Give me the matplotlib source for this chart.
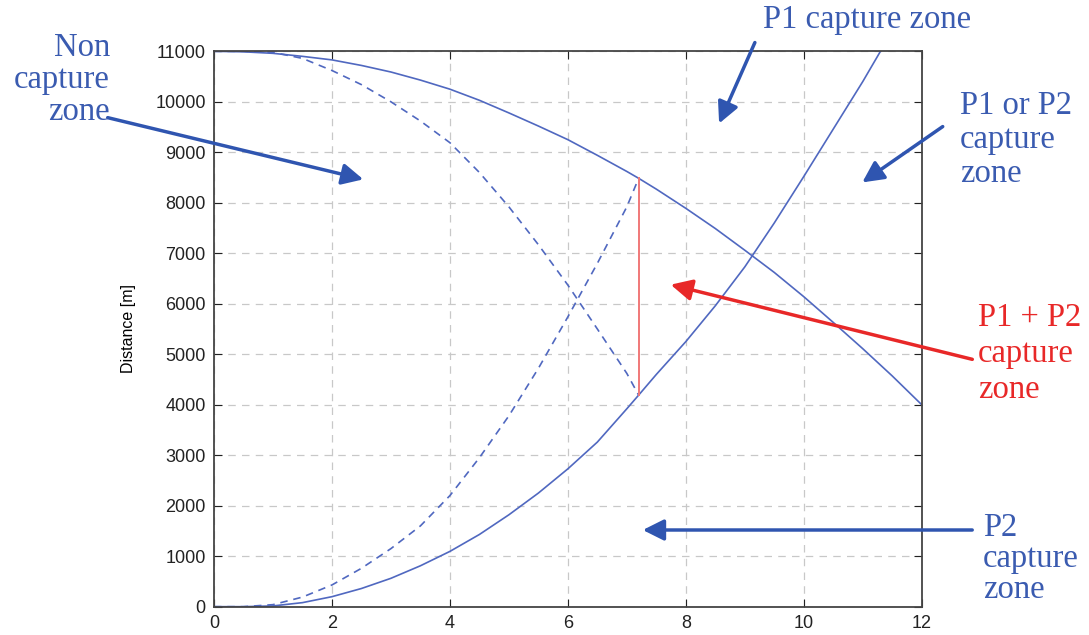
import numpy as np
import matplotlib.pyplot as plt

# curves (x, distance in m)
x_p1 = [0, 0.5, 1, 1.5, 2, 2.5, 3, 3.5, 4, 4.5, 5, 5.5, 6, 6.5, 7, 7.2, 7.5, 8, 8.5, 9, 9.5, 10, 10.5, 11, 11.5, 12]
d_p1 = [11000, 10990, 10960, 10900, 10830, 10720, 10590, 10430, 10250, 10030, 9780, 9520, 9250, 8940, 8620, 8485,
        8270, 7890, 7490, 7060, 6620, 6140, 5630, 5110, 4570, 4000]

x_p2 = [0, 0.5, 1, 1.5, 2, 2.5, 3, 3.5, 4, 4.5, 5, 5.5, 6, 6.5, 7, 7.2, 7.5, 8, 8.5, 9, 9.5, 10, 10.5, 11, 11.3]
d_p2 = [0, 0, 15, 80, 198, 360, 562, 810, 1095, 1430, 1820, 2250, 2730, 3260, 3920, 4190, 4600, 5250, 5960, 6730,
        7600, 8520, 9460, 10400, 11000]

x_dash = [0, 0.5, 1, 1.5, 2, 2.5, 3, 3.5, 4, 4.5, 5, 5.5, 6, 6.5, 7, 7.2]
d_dash_down = [11000, 11000, 10980, 10860, 10620, 10340, 10000, 9620, 9190, 8600, 7920, 7170, 6370, 5500, 4620, 4190]
d_dash_up = [0, 0, 40, 190, 430, 760, 1150, 1600, 2200, 2950, 3780, 4720, 5740, 6800, 7920, 8485]

x_red = 7.2
red_span = [4190, 8485]

blue = '#5068c0'
arrow_blue = '#2f55b0'
txt_blue = '#3a5bb0'
red = '#e82828'

plt.rcParams['font.family'] = ['Liberation Sans', 'DejaVu Sans']
fig = plt.figure(figsize=(10.89, 6.35), dpi=100)
ax = fig.add_axes([0.1965, 0.0446, 0.6499, 0.8746])

ax.plot(x_p1, d_p1, color=blue, lw=1.2)
ax.plot(x_p2, d_p2, color=blue, lw=1.2)
ax.plot(x_dash, d_dash_down, color=blue, lw=1.2, ls=(0, (4.5, 3.5)))
ax.plot(x_dash, d_dash_up, color=blue, lw=1.2, ls=(0, (4.5, 3.5)))
ax.plot([x_red, x_red], red_span, color='#f07878', lw=1.4)

ax.set_xlim(0, 12)
ax.set_ylim(0, 11000)
ax.set_xticks(np.arange(0, 13, 2))
ax.set_yticks(np.arange(0, 11001, 1000))
ax.grid(True, ls=(0, (6, 5)), color='#c8c8c8', lw=0.9)
ax.tick_params(direction='in', top=True, right=True, labelsize=13, length=6, colors='#222222', pad=6)
for s in ax.spines.values():
    s.set_color('#444444')
    s.set_linewidth(1.3)
ax.set_ylabel('Distance [m]', fontsize=11.5, labelpad=14)

serif = ['Liberation Serif', 'DejaVu Serif']
fs = 23.5


def note(lines, xy, ha, color, step=32):
    for i, t in enumerate(lines):
        fig.text(xy[0] / 1089, 1 - (xy[1] + i * step) / 635, t, ha=ha, va='center',
                 fontsize=fs, color=color, family=serif)


def arrow(tail, head, color):
    fig.add_artist(plt.matplotlib.patches.FancyArrowPatch(
        (tail[0] / 1089, 1 - tail[1] / 635), (head[0] / 1089, 1 - head[1] / 635),
        transform=fig.transFigure, arrowstyle='-|>', mutation_scale=32, lw=2.5, color=color))


note(['Non', 'capture', 'zone'], (110, 48), 'right', txt_blue)
note(['P1 capture zone'], (763, 20), 'left', txt_blue)
note(['P1 or P2', 'capture', 'zone'], (960, 106), 'left', txt_blue, step=34)
note(['P1 + P2', 'capture', 'zone'], (978, 318), 'left', red, step=36)
note(['P2', 'capture', 'zone'], (983, 528), 'left', txt_blue, step=31)

arrow((105, 117), (366, 180), arrow_blue)
arrow((756, 40), (718, 126), arrow_blue)
arrow((945, 125), (860, 184), arrow_blue)
arrow((975, 360), (668, 284), red)
arrow((975, 530), (640, 530), arrow_blue)

fig.savefig('out.png', dpi=100)
